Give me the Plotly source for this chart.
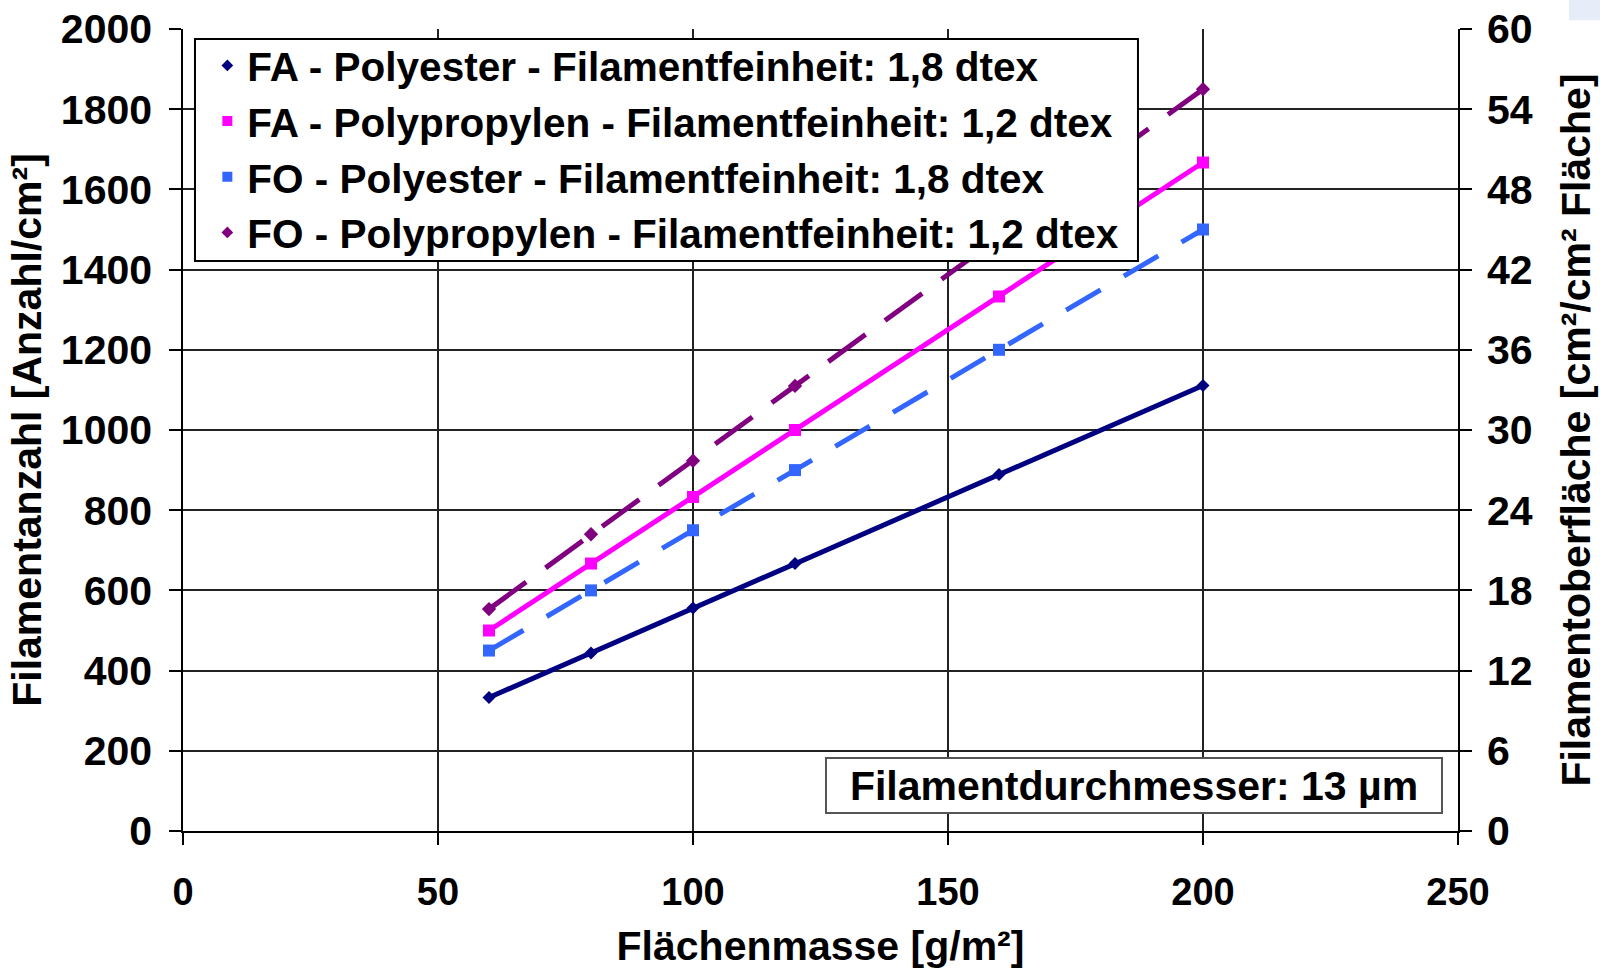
import plotly.graph_objects as go

# ---- data ----
x_vals = [60, 80, 100, 120, 160, 200]
fa_polyester = [333, 444, 556, 667, 889, 1111]          # left axis
fa_polypropylen = [500, 667, 833, 1000, 1333, 1667]     # left axis
fo_polyester = [13.5, 18.0, 22.5, 27.0, 36.0, 45.0]     # right axis
fo_polypropylen = [16.6, 22.2, 27.7, 33.3, 44.4, 55.5]  # right axis

names = [
    "FA - Polyester - Filamentfeinheit: 1,8 dtex",
    "FA - Polypropylen - Filamentfeinheit: 1,2 dtex",
    "FO - Polyester - Filamentfeinheit: 1,8 dtex",
    "FO - Polypropylen - Filamentfeinheit: 1,2 dtex",
]
colors = ["#000080", "#FF00FF", "#3366FF", "#800080"]
symbols = ["diamond", "square", "square", "diamond"]

x_ticks = [0, 50, 100, 150, 200, 250]
y_left_ticks = list(range(0, 2001, 200))
y_right_ticks = list(range(0, 61, 6))

FONT = "Liberation Sans, Arial, sans-serif"

fig = go.Figure()

series = [
    (fa_polyester, "y", "solid", 10),
    (fa_polypropylen, "y", "solid", 12),
    (fo_polyester, "y2", "40px,27px", 12),
    (fo_polypropylen, "y2", "46px,24px", 11),
]
for i, (vals, ax, dash, msize) in enumerate(series):
    fig.add_trace(go.Scatter(
        x=x_vals, y=vals, yaxis=ax, mode="lines+markers",
        line=dict(color=colors[i], width=5, dash=dash),
        marker=dict(symbol=symbols[i], size=msize, color=colors[i]),
        showlegend=False, name=names[i],
    ))

# legend-only entries (markers only, as in the original)
for i in range(4):
    fig.add_trace(go.Scatter(
        x=[None], y=[None], mode="markers", name=names[i],
        marker=dict(symbol=symbols[i], size=10 if symbols[i] == "square" else 9, color=colors[i]),
        legendgroup=f"g{i}", showlegend=True,
    ))

axis_common = dict(
    showline=True, linecolor="black", linewidth=1.5,
    ticks="outside", ticklen=12, tickcolor="black", tickwidth=1.5,
    zeroline=False, automargin=False,
)
title_font = dict(family=FONT, size=41, color="black", weight="bold")

fig.update_layout(
    width=1600, height=969,
    margin=dict(l=183, r=142, t=29, b=138, autoexpand=False),
    paper_bgcolor="white", plot_bgcolor="white",
    font=dict(family=FONT, color="black", size=39, weight="bold"),
    xaxis=dict(
        range=[0, 250], tickvals=x_ticks, showgrid=True,
        gridcolor="#222222", gridwidth=1.5,
        tickfont=dict(family=FONT, size=38, color="black", weight="bold"),
        ticklabelstandoff=15,
        title=dict(text="Flächenmasse [g/m²]", font=title_font, standoff=21),
        **axis_common,
    ),
    yaxis=dict(
        range=[0, 2000], tickvals=y_left_ticks, showgrid=True,
        gridcolor="#222222", gridwidth=1.5,
        tickfont=dict(family=FONT, size=41, color="black", weight="bold"),
        ticklabelstandoff=9,
        title=dict(text="Filamentanzahl [Anzahl/cm²]", font=title_font, standoff=6),
        **axis_common,
    ),
    yaxis2=dict(
        range=[0, 60], tickvals=y_right_ticks, overlaying="y", side="right",
        showgrid=False,
        tickfont=dict(family=FONT, size=41, color="black", weight="bold"),
        ticklabelstandoff=7,
        title=dict(text="Filamentoberfläche [cm²/cm² Fläche]", font=title_font, standoff=30),
        **axis_common,
    ),
    legend=dict(
        x=0.0191, y=0.9955, xanchor="left", yanchor="top",
        bgcolor="rgba(0,0,0,0)", borderwidth=0,
        font=dict(family=FONT, size=40.5, color="black", weight="bold"),
        tracegroupgap=0,
    ),
    annotations=[dict(
        text="Filamentdurchmesser: 13 µm", xref="paper", yref="paper",
        x=0.7462, y=0.0567, xanchor="center", yanchor="middle", showarrow=False,
        font=dict(family=FONT, size=41, color="black", weight="bold"),
        bgcolor="white", bordercolor="#555555", borderwidth=2,
        width=612, height=51, borderpad=1,
    )],
    shapes=[
        dict(type="rect", xref="paper", yref="paper",
             x0=0.0094, x1=0.749, y0=0.7107, y1=0.9875,
             fillcolor="white", line=dict(color="black", width=2), layer="above"),
        dict(type="rect", xref="paper", yref="paper", x0=1.087, x1=1.12, y0=1.011, y1=1.04,
             fillcolor="#E6ECF8", line=dict(width=0), layer="below"),
    ],
)

fig.write_html("out.html")
